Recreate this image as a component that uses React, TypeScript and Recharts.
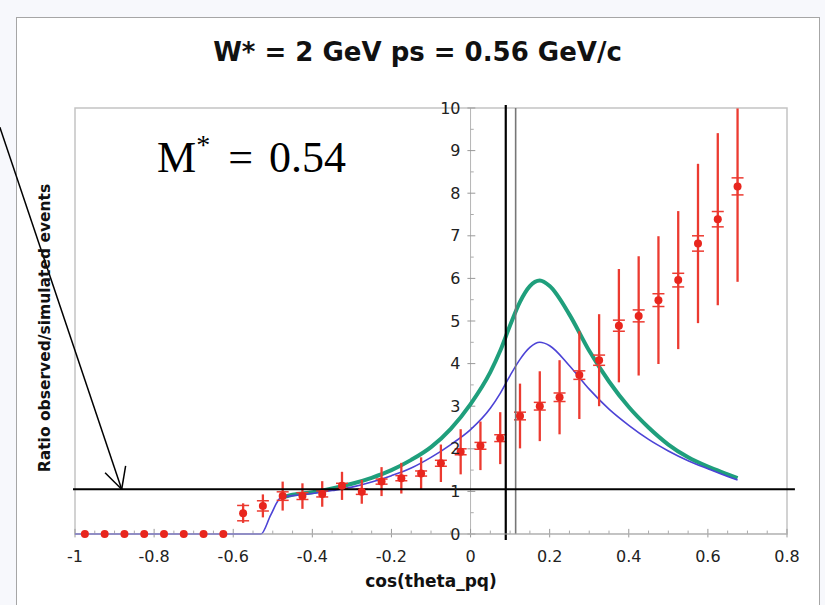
import React from 'react';
import {
  ComposedChart, Line, Scatter, ErrorBar, XAxis, YAxis, ReferenceLine, ReferenceArea, ReferenceDot,
} from 'recharts';

// cos(theta_pq) bin centres and measured ratio
const binX = [
  -0.975, -0.925, -0.875, -0.825, -0.775, -0.725, -0.675, -0.625, -0.575, -0.525, -0.475, -0.425,
  -0.375, -0.325, -0.275, -0.225, -0.175, -0.125, -0.075, -0.025, 0.025, 0.075, 0.125, 0.175,
  0.225, 0.275, 0.325, 0.375, 0.425, 0.475, 0.525, 0.575, 0.625, 0.675,
];
const ratio = [
  0, 0, 0, 0, 0, 0, 0, 0, 0.49, 0.66, 0.89, 0.89,
  0.94, 1.13, 0.99, 1.23, 1.31, 1.42, 1.66, 1.93, 2.07, 2.25, 2.77, 3.0,
  3.21, 3.73, 4.08, 4.89, 5.12, 5.49, 5.96, 6.82, 7.39, 8.16,
];
// total error (line without caps) and statistical error (capped)
const totErr: (number | number[])[] = [
  0, 0, 0, 0, 0, 0, 0, 0, 0.23, 0.27, 0.34, 0.3,
  0.3, 0.33, 0.28, 0.34, 0.36, 0.38, 0.44, 0.53, 0.57, 0.61, 0.76, 0.82,
  0.87, 1.03, 1.08, 1.33, 1.4, 1.5, 1.62, 1.87, 2.02, [2.24, 1.83],
];
const statErr = [
  0, 0, 0, 0, 0, 0, 0, 0, 0.18, 0.12, 0.1, 0.08,
  0.07, 0.06, 0.06, 0.06, 0.06, 0.06, 0.07, 0.07, 0.08, 0.08, 0.09, 0.09,
  0.1, 0.1, 0.12, 0.13, 0.14, 0.15, 0.16, 0.18, 0.18, 0.2,
];

// simulation curves
const greenX = [
  -0.48, -0.45, -0.4, -0.35, -0.3, -0.25, -0.2, -0.15, -0.1, -0.05, 0, 0.05, 0.075, 0.1,
  0.125, 0.15, 0.175, 0.2, 0.25, 0.3, 0.35, 0.4, 0.45, 0.5, 0.55, 0.6, 0.65, 0.675,
];
const greenV = [
  0.85, 0.92, 0.98, 1.07, 1.18, 1.32, 1.5, 1.74, 2.04, 2.47, 3.05, 3.8, 4.3, 4.9,
  5.45, 5.82, 5.95, 5.82, 5.15, 4.3, 3.58, 2.98, 2.5, 2.1, 1.8, 1.58, 1.4, 1.31,
];
const blueX = [
  -1, -0.55, -0.53, -0.505, -0.48, -0.45, -0.4, -0.35, -0.3, -0.25, -0.2, -0.15, -0.1, -0.05,
  0, 0.05, 0.075, 0.1, 0.125, 0.15, 0.175, 0.2, 0.25, 0.3, 0.35, 0.4, 0.45, 0.5, 0.55, 0.6, 0.65, 0.675,
];
const blueV = [
  0, 0, 0, 0.45, 0.85, 0.9, 0.95, 1.02, 1.1, 1.22, 1.37, 1.55, 1.8, 2.1,
  2.45, 2.95, 3.3, 3.72, 4.1, 4.38, 4.5, 4.42, 3.95, 3.4, 2.93, 2.55, 2.22, 1.95, 1.72, 1.53, 1.35, 1.27,
];

const xTicks = [-1, -0.8, -0.6, -0.4, -0.2, 0, 0.2, 0.4, 0.6, 0.8];
const xMinor = [
  -0.95, -0.9, -0.85, -0.75, -0.7, -0.65, -0.55, -0.5, -0.45, -0.35, -0.3, -0.25, -0.15, -0.1, -0.05,
  0.05, 0.1, 0.15, 0.25, 0.3, 0.35, 0.45, 0.5, 0.55, 0.65, 0.7, 0.75,
];
const yTicks = [0, 1, 2, 3, 4, 5, 6, 7, 8, 9, 10];
const yMinor = [0.5, 1.5, 2.5, 3.5, 4.5, 5.5, 6.5, 7.5, 8.5, 9.5];

// cuts and annotation arrow (data coordinates)
const cutA = 0.089;
const cutB = 0.114;
const unityY = 1.05;
const arrowFrom = { x: -1.19, y: 9.55 };
const arrowTip = { x: -0.882, y: 1.05 };
const barbL = { x: -0.924, y: 1.44 };
const barbR = { x: -0.872, y: 1.6 };

const sans = '"DejaVu Sans", Verdana, sans-serif';
const RED = '#e8261e';

const points = binX.map((x, i) => ({ x, y: ratio[i], tot: totErr[i], stat: statErr[i] }));
const zeroPts = points.filter((p) => p.y === 0);
const measPts = points.filter((p) => p.y !== 0);
const green = greenX.map((x, i) => ({ x, v: greenV[i] }));
const blue = blueX.map((x, i) => ({ x, v: blueV[i] }));

const dot = (p: any) => <circle cx={p.cx} cy={p.cy} r={4} fill={RED} />;

export default function App() {
  return (
    <div style={{ position: 'absolute', left: 0, top: 0, width: 825, height: 605, background: '#f7f8fc', overflow: 'hidden' }}>
      <div style={{ position: 'absolute', left: 16, top: 17, width: 802, height: 600, background: '#fff', border: '1.5px solid #a6a6a6' }} />
      <div style={{ position: 'absolute', left: 16, width: 803, top: 36, textAlign: 'center', fontFamily: sans, fontWeight: 'bold', fontSize: 26, lineHeight: '32px', color: '#111' }}>
        W* = 2 GeV ps = 0.56 GeV/c
      </div>
      <ComposedChart
        width={825}
        height={605}
        style={{ position: 'absolute', left: 0, top: 0 }}
        margin={{ top: 108, right: 38, left: 75, bottom: 41 }}
      >
        <XAxis
          dataKey="x"
          type="number"
          domain={[-1, 0.8]}
          ticks={xTicks}
          height={30}
          tickSize={0}
          tickMargin={17}
          tickLine={false}
          axisLine={{ stroke: '#b5b5b5' }}
          tick={{ fill: '#222', fontSize: 16, fontFamily: sans }}
        />
        <YAxis type="number" domain={[0, 10]} ticks={yTicks} hide width={0} />
        <ReferenceArea x1={-1} x2={0.8} y1={0} y2={10} fill="none" stroke="#c4c4c4" strokeWidth={1.5} ifOverflow="visible" />
        <ReferenceLine x={0} stroke="#b5b5b5" />
        {yTicks.map((v) => (
          <ReferenceLine key={'yt' + v} segment={[{ x: -0.008, y: v }, { x: 0.012, y: v }]} stroke="#999" ifOverflow="visible" />
        ))}
        {yMinor.map((v) => (
          <ReferenceLine key={'ym' + v} segment={[{ x: 0, y: v }, { x: 0.008, y: v }]} stroke="#aaa" ifOverflow="visible" />
        ))}
        {xTicks.map((v) => (
          <ReferenceLine key={'xt' + v} segment={[{ x: v, y: -0.08 }, { x: v, y: 0.12 }]} stroke="#999" ifOverflow="visible" />
        ))}
        {xMinor.map((v) => (
          <ReferenceLine key={'xm' + v} segment={[{ x: v, y: 0 }, { x: v, y: 0.08 }]} stroke="#aaa" ifOverflow="visible" />
        ))}
        {yTicks.map((v) => (
          <ReferenceDot
            key={'yl' + v}
            x={0}
            y={v}
            r={1}
            fill="none"
            stroke="none"
            ifOverflow="visible"
            label={{ value: String(v), position: 'left', offset: 9, fill: '#222', fontSize: 16, fontFamily: sans }}
          />
        ))}
        <Line data={green} dataKey="v" type="monotone" stroke="#1f9f7c" strokeWidth={4} dot={false} isAnimationActive={false} />
        <Line data={blue} dataKey="v" type="monotone" stroke="#4c43d6" strokeWidth={1.6} dot={false} isAnimationActive={false} />
        <Scatter data={zeroPts} dataKey="y" shape={dot} isAnimationActive={false} />
        <Scatter data={measPts} dataKey="y" shape={dot} isAnimationActive={false}>
          <ErrorBar dataKey="tot" direction="y" width={0} stroke="#ec3a30" strokeWidth={2.3} />
          <ErrorBar dataKey="stat" direction="y" width={6} stroke="#ec3a30" strokeWidth={1.5} />
        </Scatter>
        <ReferenceLine segment={[{ x: cutB, y: 0 }, { x: cutB, y: 10 }]} stroke="#777" strokeWidth={1.6} ifOverflow="visible" />
        <ReferenceLine segment={[{ x: cutA, y: -0.14 }, { x: cutA, y: 10.07 }]} stroke="#000" strokeWidth={2.2} ifOverflow="visible" />
        <ReferenceLine segment={[{ x: -1.005, y: unityY }, { x: 0.82, y: unityY }]} stroke="#000" strokeWidth={1.8} ifOverflow="visible" />
        <ReferenceLine segment={[arrowFrom, arrowTip]} stroke="#000" strokeWidth={1.5} ifOverflow="visible" />
        <ReferenceLine segment={[barbL, arrowTip]} stroke="#000" strokeWidth={1.5} ifOverflow="visible" />
        <ReferenceLine segment={[barbR, arrowTip]} stroke="#000" strokeWidth={1.5} ifOverflow="visible" />
      </ComposedChart>
      <div style={{ position: 'absolute', left: 281, width: 300, top: 571, textAlign: 'center', fontFamily: sans, fontWeight: 'bold', fontSize: 17, color: '#111' }}>
        cos(theta_pq)
      </div>
      <div
        style={{
          position: 'absolute', left: 45, top: 328, width: 340, marginLeft: -170, marginTop: -10, height: 20, lineHeight: '20px',
          transform: 'rotate(-90deg)', textAlign: 'center', fontFamily: sans, fontWeight: 'bold', fontSize: 15.5, color: '#111',
        }}
      >
        Ratio observed/simulated events
      </div>
      <div style={{ position: 'absolute', left: 157, top: 136, fontFamily: '"Liberation Serif", "Times New Roman", serif', fontSize: 44, lineHeight: '44px', color: '#000', whiteSpace: 'nowrap' }}>
        M<span style={{ fontSize: 28, position: 'relative', top: -18 }}>*</span>
        <span style={{ marginLeft: 18, marginRight: 16 }}>=</span>0.54
      </div>
    </div>
  );
}
